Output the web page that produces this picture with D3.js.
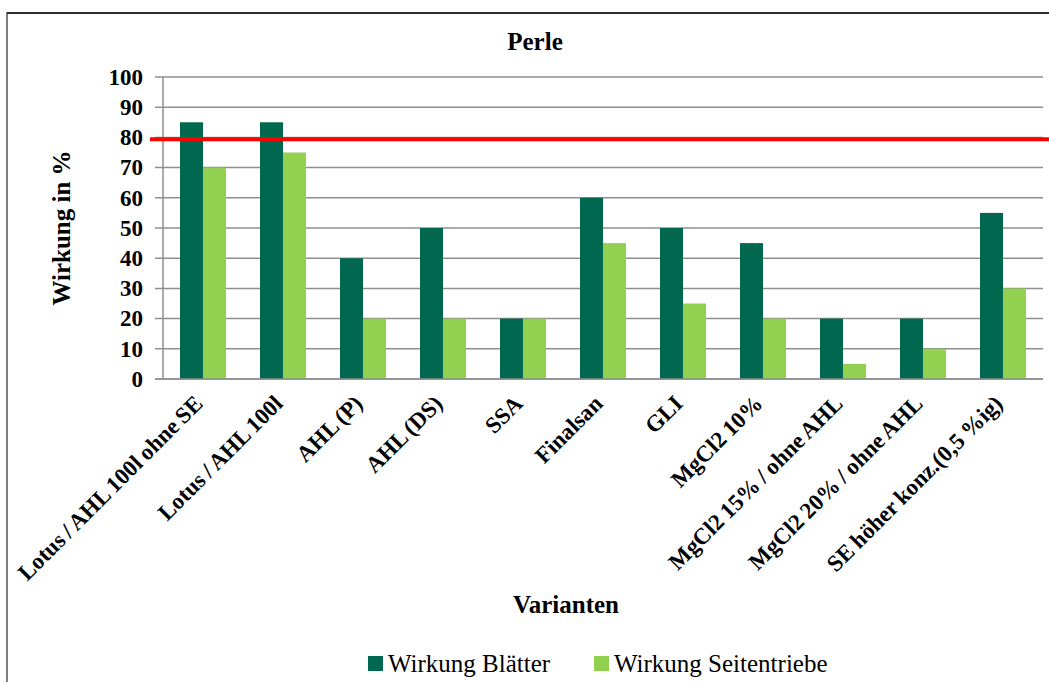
<!DOCTYPE html>
<html><head><meta charset="utf-8">
<script src="https://cdn.jsdelivr.net/npm/d3@7"></script>
<style>body{margin:0;background:#fff;} svg{display:block;}</style>
</head><body>
<svg id="chart" width="1049" height="682"></svg>
<script>
const categories = ["Lotus / AHL 100l ohne SE","Lotus / AHL 100l","AHL (P)","AHL (DS)","SSA","Finalsan","GLI","MgCl2 10%","MgCl2 15% / ohne AHL","MgCl2 20% / ohne AHL","SE höher konz.(0,5 %ig)"];
const seriesNames = ["Wirkung Blätter","Wirkung Seitentriebe"];
const blaetter = [85,85,40,50,20,60,50,45,20,20,55];
const seitentriebe = [70,75,20,20,20,45,25,20,5,10,30];
const yTicks = [0,10,20,30,40,50,60,70,80,90,100];
const threshold = 79.4;
const colors = ["#00684F","#92D050"];

(function(){
const svg = d3.select("#chart");
const serif = "'Liberation Serif','Times New Roman',serif";
const pLeft = 163, pRight = 1043, pTop = 77, pBottom = 379;

// outer border
svg.append("rect").attr("x",7).attr("y",13).attr("width",1100).attr("height",700)
  .attr("fill","none").attr("stroke","#555").attr("stroke-width",1.5);
svg.append("line").attr("x1",7).attr("x2",1049).attr("y1",13).attr("y2",13).attr("stroke","#111").attr("stroke-width",1.5);

const x = d3.scaleBand().domain(categories).range([pLeft,pRight]).paddingInner(0.425).paddingOuter(0.2125);
const xs = d3.scaleBand().domain(seriesNames).range([0,x.bandwidth()]);
const y = d3.scaleLinear().domain([0,100]).range([pBottom,pTop]);

// gridlines
svg.append("g").selectAll("line").data(yTicks).join("line")
  .attr("x1",pLeft-8).attr("x2",pRight).attr("y1",d=>y(d)).attr("y2",d=>y(d))
  .attr("stroke","#8f8f8f").attr("stroke-width",1.5);
svg.append("line").attr("x1",pLeft).attr("x2",pLeft).attr("y1",pTop).attr("y2",pBottom)
  .attr("stroke","#8f8f8f").attr("stroke-width",1.5);

// y axis labels
const yAxis = d3.axisLeft(y).tickValues(yTicks).tickSize(0).tickPadding(20);
const ga = svg.append("g").attr("transform",`translate(${pLeft},0)`).call(yAxis);
ga.select(".domain").remove();
ga.selectAll("text").attr("font-family",serif).attr("font-weight","bold").attr("font-size",23).attr("fill","#000");

// bars
const data = categories.map((c,i)=>({c, vals:[blaetter[i],seitentriebe[i]]}));
const grp = svg.append("g").selectAll("g").data(data).join("g").attr("transform",d=>`translate(${x(d.c)},0)`);
grp.selectAll("rect").data(d=>d.vals.map((v,j)=>({v,s:seriesNames[j],j}))).join("rect")
  .attr("x",d=>xs(d.s)).attr("width",xs.bandwidth())
  .attr("y",d=>y(d.v)).attr("height",d=>y(0)-y(d.v)).attr("fill",d=>colors[d.j]);

// baseline
svg.append("line").attr("x1",pLeft-8).attr("x2",pRight).attr("y1",y(0)).attr("y2",y(0)).attr("stroke","#8f8f8f").attr("stroke-width",1.5);

// threshold line
svg.append("line").attr("x1",150).attr("x2",1049).attr("y1",y(threshold)).attr("y2",y(threshold))
  .attr("stroke","#ff0000").attr("stroke-width",4);

// category labels
svg.append("g").selectAll("text").data(categories).join("text")
  .attr("transform",d=>`translate(${x(d)+x.bandwidth()/2+1},405) rotate(-45)`)
  .attr("text-anchor","end").attr("font-family",serif).attr("font-weight","bold").attr("font-size",23)
  .attr("word-spacing","-1").text(d=>d);

// titles
svg.append("text").attr("x",535).attr("y",50).attr("text-anchor","middle").attr("font-family",serif)
  .attr("font-weight","bold").attr("font-size",25).text("Perle");
svg.append("text").attr("transform","translate(70,228) rotate(-90)").attr("text-anchor","middle").attr("font-family",serif)
  .attr("font-weight","bold").attr("font-size",25).text("Wirkung in %");
svg.append("text").attr("x",566).attr("y",613).attr("text-anchor","middle").attr("font-family",serif)
  .attr("font-weight","bold").attr("font-size",25).text("Varianten");

// legend
const legX = [368,594];
const lg = svg.append("g").selectAll("g").data(seriesNames).join("g").attr("transform",(d,i)=>`translate(${legX[i]},656)`);
lg.append("rect").attr("width",15).attr("height",15).attr("fill",(d,i)=>colors[i]);
lg.append("text").attr("x",20).attr("y",16).attr("font-family",serif).attr("font-size",25).text(d=>d);
})();
</script>
</body></html>
